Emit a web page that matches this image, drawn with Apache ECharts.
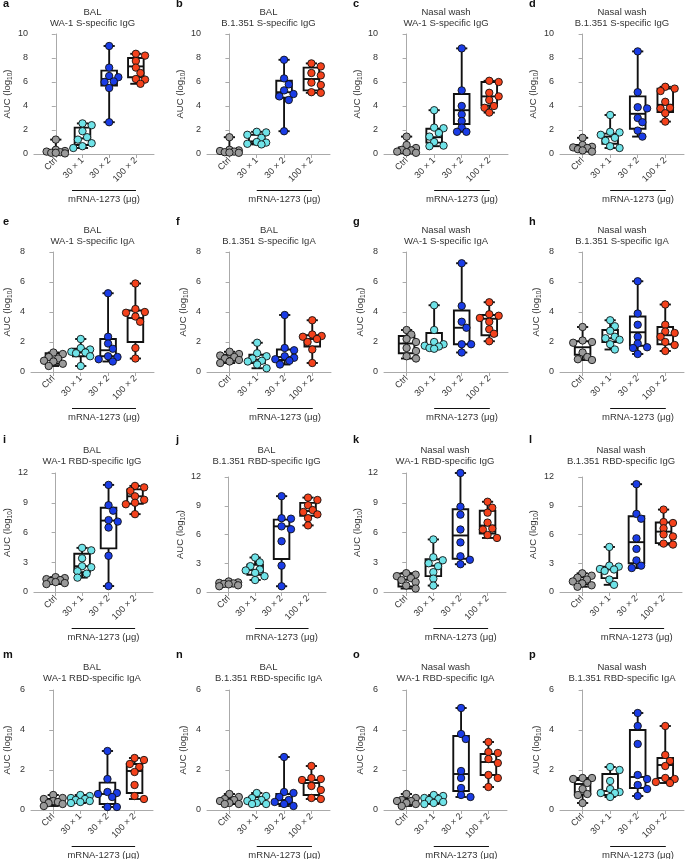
<!DOCTYPE html>
<html><head><meta charset="utf-8">
<script src="https://cdn.jsdelivr.net/npm/echarts@6/dist/echarts.min.js"></script>
<style>html,body{margin:0;padding:0;background:#fff}#c{width:685px;height:859px}</style>
</head><body><div id="c"></div>
<script>
// ---------------- DATA ----------------
const categories = ['Ctrl', '30 × 1', '30 × 2', '100 × 2'];
const groupColors = ['#9a9a9a', '#6fe3e8', '#1a3ce6', '#f4421c'];
const letters = ['a','b','c','d','e','f','g','h','i','j','k','l','m','n','o','p'];
const sites = ['BAL','BAL','Nasal wash','Nasal wash','BAL','BAL','Nasal wash','Nasal wash',
               'BAL','BAL','Nasal wash','Nasal wash','BAL','BAL','Nasal wash','Nasal wash'];
const antigens = ['WA-1 S-specific IgG','B.1.351 S-specific IgG','WA-1 S-specific IgG','B.1.351 S-specific IgG',
                  'WA-1 S-specific IgA','B.1.351 S-specific IgA','WA-1 S-specific IgA','B.1.351 S-specific IgA',
                  'WA-1 RBD-specific IgG','B.1.351 RBD-specific IgG','WA-1 RBD-specific IgG','B.1.351 RBD-specific IgG',
                  'WA-1 RBD-specific IgA','B.1.351 RBD-specific IgA','WA-1 RBD-specific IgA','B.1.351 RBD-specific IgA'];
const yMaxes = [10,10,10,10, 8,8,8,8, 12,12,12,12, 6,6,6,6];
const yTicks = [2,2,2,2, 2,2,2,2, 3,3,3,3, 2,2,2,2];
const yName = 'AUC (log{sub|10})';
const xGroupLabel = 'mRNA-1273 (μg)';

// points per group: Ctrl, 30x1, 30x2, 100x2
const ptsA = [[1.2,0.35,0.25,0.2,0.15,0.1,0.1,0.05],[2.55,2.4,1.9,1.4,1.2,0.9,0.65,0.5],[9.0,7.2,6.5,6.4,6.05,6.0,5.5,2.65],[8.35,8.2,7.75,7.2,6.75,6.25,6.2,5.85]];
const ptsB = [[1.4,0.35,0.3,0.25,0.2,0.15,0.12,0.1],[1.85,1.8,1.6,1.35,1.0,0.95,0.85,0.8],[7.85,6.3,5.8,5.3,5.0,4.8,4.5,1.9],[7.55,7.3,6.75,6.55,5.95,5.75,5.15,5.1]];
const ptsC = [[1.45,0.75,0.5,0.35,0.3,0.2,0.15,0.1],[3.65,2.2,2.15,1.75,1.45,1.0,0.7,0.65],[8.8,5.3,4.0,3.3,2.75,2.2,1.85,1.85],[6.1,6.0,5.1,4.8,4.5,4.0,3.85,3.45]];
const ptsD = [[1.35,0.75,0.6,0.55,0.5,0.4,0.3,0.2],[3.25,1.85,1.8,1.6,1.35,1.1,0.65,0.5],[8.55,5.15,3.9,3.8,3.0,2.65,1.95,1.45],[5.6,5.45,5.25,4.35,3.85,3.8,3.4,2.7]];
const ptsE = [[1.3,1.2,1.0,0.9,0.75,0.7,0.55,0.4],[2.2,1.6,1.5,1.35,1.3,1.25,1.05,0.4],[5.25,2.35,1.9,1.55,1.05,1.0,0.85,0.7],[5.9,4.2,4.0,3.95,3.7,3.35,1.6,0.9]];
const ptsF = [[1.35,1.2,1.1,1.0,0.9,0.8,0.7,0.6],[1.95,1.25,1.05,0.9,0.75,0.7,0.5,0.25],[3.8,1.6,1.45,1.05,0.95,0.85,0.75,0.5],[3.45,2.5,2.4,2.35,2.2,2.0,1.5,0.6]];
const ptsG = [[2.8,2.5,2.2,2.0,1.6,1.4,1.05,0.9],[4.45,2.8,2.0,1.85,1.75,1.7,1.6,1.55],[7.25,4.4,3.35,2.95,1.85,1.85,1.3],[4.65,3.85,3.75,3.6,3.35,2.85,2.55,2.05]];
const ptsH = [[3.0,2.1,2.0,1.95,1.3,1.0,0.85,0.8],[3.45,3.05,2.75,2.35,2.25,2.15,1.85,1.5],[6.05,3.9,3.15,2.35,1.9,1.65,1.6,1.2],[4.5,3.15,2.7,2.6,2.35,2.0,1.8,1.4]];
const ptsI = [[1.5,1.4,1.3,1.2,1.1,1.0,0.9,0.8],[4.45,4.2,3.4,2.6,2.5,2.1,1.85,1.45],[10.8,8.75,8.2,7.25,7.1,6.5,3.65,0.6],[10.7,10.55,10.2,9.65,9.3,9.0,8.85,7.85]];
const ptsJ = [[1.1,1.0,0.95,0.9,0.85,0.8,0.7,0.6],[3.6,3.1,2.7,2.35,2.25,2.0,1.65,1.25],[10.0,7.7,7.65,6.85,6.55,5.3,2.75,0.6],[9.85,9.6,9.05,8.55,8.35,8.1,7.7,6.95]];
const ptsK = [[1.9,1.75,1.6,1.4,1.2,1.0,0.65,0.35],[5.3,3.5,3.2,2.9,2.6,2.0,1.35,0.65],[12.0,8.6,7.8,6.3,5.0,3.6,3.25,2.8],[9.1,8.5,8.0,7.0,6.4,6.3,5.75,5.45]];
const ptsL = [[1.95,1.7,1.5,1.3,1.1,0.9,0.7,0.55],[4.7,2.75,2.65,2.4,2.35,2.2,1.3,0.75],[11.25,8.15,7.65,5.6,4.5,3.3,2.75,2.5],[8.6,7.3,7.2,6.65,6.0,5.8,5.05,4.95]];
const ptsM = [[0.75,0.6,0.55,0.45,0.4,0.35,0.3,0.2],[0.75,0.7,0.6,0.55,0.5,0.45,0.4,0.35],[2.95,1.55,0.9,0.85,0.8,0.65,0.15,0.15],[2.6,2.5,2.3,2.15,1.9,1.25,0.7,0.55]];
const ptsN = [[0.8,0.65,0.55,0.5,0.45,0.35,0.3,0.3],[0.85,0.7,0.6,0.5,0.45,0.35,0.3,0.3],[2.65,0.9,0.85,0.65,0.5,0.4,0.3,0.2],[2.2,1.6,1.55,1.5,1.2,1.0,0.6,0.55]];
const ptsO = [[0.8,0.6,0.5,0.45,0.45,0.35,0.3,0.2],[0.75,0.7,0.6,0.55,0.5,0.4,0.35,0.3],[5.1,3.8,3.55,1.95,1.6,1.1,0.75,0.65],[3.4,2.9,2.85,2.55,2.35,1.75,1.6,1.15]];
const ptsP = [[1.6,1.6,1.55,1.35,1.05,0.8,0.75,0.35],[2.15,2.0,1.45,1.05,0.9,0.85,0.85,0.65],[4.85,4.2,3.3,1.75,1.55,1.25,1.05,0.7],[4.2,2.75,2.45,2.2,1.6,1.55,1.4,1.35]];

// box stats per group: [min, q1, median, q3, max]
const boxA = [[0.05,0.1,0.17,0.3,1.2],[0.5,0.75,1.3,2.2,2.55],[2.65,5.7,6.25,6.95,9.0],[5.85,6.4,7.3,8.0,8.35]];
const boxB = [[0.1,0.13,0.22,0.3,1.4],[0.8,0.9,1.05,1.6,1.85],[1.9,4.7,5.15,6.1,7.85],[5.1,5.3,6.25,7.2,7.55]];
const boxC = [[0.1,0.15,0.33,0.55,1.45],[0.65,0.95,1.4,2.1,3.65],[1.85,2.5,3.65,5.0,8.8],[3.45,4.05,4.8,6.0,6.1]];
const boxD = [[0.2,0.35,0.55,0.75,1.35],[0.5,0.85,1.45,1.7,3.25],[1.45,2.1,3.35,4.8,8.55],[2.7,3.5,4.1,5.45,5.6]];
const boxE = [[0.4,0.55,0.8,1.25,1.3],[0.4,1.05,1.3,1.55,2.2],[0.7,1.05,1.45,2.2,5.25],[0.9,2.0,3.6,4.1,5.9]];
const boxF = [[0.6,0.75,0.95,1.15,1.35],[0.25,0.6,0.82,1.15,1.95],[0.5,0.8,1.0,1.5,3.8],[0.6,1.7,2.2,2.45,3.45]];
const boxG = [[0.9,1.25,1.9,2.4,2.8],[1.55,1.65,1.8,2.6,4.45],[1.3,1.85,2.95,4.1,7.25],[2.05,2.45,3.55,3.8,4.65]];
const boxH = [[0.8,1.15,1.65,2.05,3.0],[1.5,2.0,2.25,2.8,3.45],[1.2,1.75,2.65,3.7,6.05],[1.4,1.85,2.45,3.0,4.5]];
const boxI = [[0.8,0.9,1.1,1.35,1.5],[1.45,2.0,2.6,3.85,4.45],[0.6,4.4,7.2,8.5,10.8],[7.85,8.9,9.65,10.35,10.7]];
const boxJ = [[0.6,0.7,0.85,1.0,1.1],[1.25,1.8,2.3,2.85,3.6],[0.6,3.45,6.85,7.55,10.0],[6.95,7.95,8.45,9.3,9.85]];
const boxK = [[0.35,0.55,1.25,1.85,1.9],[0.65,1.6,2.65,3.3,5.3],[2.8,3.35,5.7,8.35,12.0],[5.45,5.9,6.7,8.2,9.1]];
const boxL = [[0.55,0.8,1.2,1.55,1.95],[0.75,1.45,2.35,2.65,4.7],[2.5,3.0,5.2,7.9,11.25],[4.95,5.1,6.3,7.25,8.6]];
const boxM = [[0.2,0.3,0.42,0.55,0.75],[0.35,0.4,0.52,0.65,0.75],[0.15,0.3,0.8,1.37,2.95],[0.55,0.85,1.95,2.3,2.6]];
const boxN = [[0.3,0.3,0.45,0.6,0.8],[0.3,0.33,0.45,0.65,0.85],[0.2,0.3,0.5,0.8,2.65],[0.55,0.75,1.35,1.5,2.2]];
const boxO = [[0.2,0.3,0.45,0.55,0.8],[0.3,0.35,0.52,0.65,0.75],[0.65,0.95,1.8,3.7,5.1],[1.15,1.75,2.4,2.8,3.4]];
const boxP = [[0.35,0.77,1.3,1.5,1.6],[0.65,0.75,0.95,1.8,2.15],[0.7,1.1,1.65,4.0,4.85],[1.35,1.6,2.25,2.6,4.2]];

const allPts = [ptsA,ptsB,ptsC,ptsD,ptsE,ptsF,ptsG,ptsH,ptsI,ptsJ,ptsK,ptsL,ptsM,ptsN,ptsO,ptsP];
const allBox = [boxA,boxB,boxC,boxD,boxE,boxF,boxG,boxH,boxI,boxJ,boxK,boxL,boxM,boxN,boxO,boxP];

// ---------------- LAYOUT ----------------
const colLefts = [31, 207, 384, 560];
const panelWidths = [123,123,124,124, 123,124,124,124, 122,119,122,122, 122,123,123,124];
const panelTops = [34,34,34,34, 252,252,252,252, 473,477,473,477, 690,690,690,690];
const rowBottoms = [154, 372, 592, 810];
const titleY = [12, 230, 450, 667];
const letterX = [3, 176, 353, 529];
const letterY = [4, 222, 440, 655];
const X_MIN = -0.82, X_MAX = 3.68;
const AX = '#aaaaaa';
const FONT = '"Liberation Sans", Arial, Helvetica, sans-serif';
const MARK = 7.4;

// compact column scatter: points spread at most ~2 steps either side, overlapping when crowded
function swarm(vals, pyu, pxu) {
  const order = vals.map((v, i) => i).sort((a, b) => vals[b] - vals[a]);
  const placed = [];
  const off = new Array(vals.length).fill(0);
  const D = 6.2, s = 4.7;
  const cands = [0, s, -s, 2 * s, -2 * s];
  order.forEach(i => {
    const y = vals[i] * pyu;
    let best = 0, bestD = -1;
    for (const cx of cands) {
      const md = placed.length ? Math.min(...placed.map(p => Math.hypot(p.x - cx, p.y - y))) : Infinity;
      if (md >= D) { best = cx; bestD = Infinity; break; }
      if (md > bestD + 0.01) { bestD = md; best = cx; }
    }
    off[i] = best; placed.push({ x: best, y });
  });
  return off.map(o => o / pxu);
}

function renderBox(params, api) {
  const x = api.value(0);
  const pMin = api.coord([x, api.value(1)]);
  const pQ1 = api.coord([x, api.value(2)]);
  const pMed = api.coord([x, api.value(3)]);
  const pQ3 = api.coord([x, api.value(4)]);
  const pMax = api.coord([x, api.value(5)]);
  const hw = 7.8, cw = 5.6, lw = 1.9;
  const st = { stroke: '#111', lineWidth: lw, fill: 'none' };
  const cx = pMed[0];
  return { type: 'group', children: [
    { type: 'line', shape: { x1: cx, y1: pMax[1], x2: cx, y2: pQ3[1] }, style: st },
    { type: 'line', shape: { x1: cx, y1: pQ1[1], x2: cx, y2: pMin[1] }, style: st },
    { type: 'line', shape: { x1: cx - cw, y1: pMax[1], x2: cx + cw, y2: pMax[1] }, style: st },
    { type: 'line', shape: { x1: cx - cw, y1: pMin[1], x2: cx + cw, y2: pMin[1] }, style: st },
    { type: 'rect', shape: { x: cx - hw, y: pQ3[1], width: 2 * hw, height: pQ1[1] - pQ3[1] }, style: { stroke: '#111', lineWidth: lw, fill: 'rgba(255,255,255,0)' } },
    { type: 'line', shape: { x1: cx - hw, y1: pMed[1], x2: cx + hw, y2: pMed[1] }, style: st }
  ]};
}

const grids = [], xAxes = [], yAxes = [], series = [], graphics = [];
for (let k = 0; k < 16; k++) {
  const r = Math.floor(k / 4), c = k % 4;
  const left = colLefts[c], top = panelTops[k], width = panelWidths[k];
  const height = rowBottoms[r] - top;
  grids.push({ left, top, width, height, containLabel: false });
  xAxes.push({
    gridIndex: k, type: 'value', min: X_MIN, max: X_MAX,
    axisLine: { show: true, onZero: true, lineStyle: { color: AX, width: 1 } },
    axisTick: { show: true, customValues: [0, 1, 2, 3], length: 4, lineStyle: { color: AX } },
    axisLabel: { show: true, customValues: [0, 1, 2, 3], rotate: 45, margin: 5, fontSize: 9, color: '#333', fontFamily: FONT,
      formatter: v => categories[Math.round(v)] },
    splitLine: { show: false }
  });
  yAxes.push({
    gridIndex: k, type: 'value', min: 0, max: yMaxes[k], interval: yTicks[k],
    axisLine: { show: true, lineStyle: { color: AX, width: 1 } },
    axisTick: { show: true, length: 4, lineStyle: { color: AX } },
    axisLabel: { fontSize: 9, color: '#333', margin: 6, fontFamily: FONT },
    splitLine: { show: false },
    name: yName, nameLocation: 'middle', nameRotate: 90, nameGap: 17,
    nameTextStyle: { fontSize: 9.5, color: '#333', fontFamily: FONT, lineHeight: 13,
      rich: { sub: { fontSize: 6.5, fontFamily: FONT, color: '#333', lineHeight: 13, verticalAlign: 'bottom', padding: [3, 0, 0, 0] } } }
  });
  const box = allBox[k];
  series.push({
    type: 'custom', xAxisIndex: k, yAxisIndex: k, silent: true, z: 2, clip: false,
    data: box.map((b, g) => [g, b[0], b[1], b[2], b[3], b[4]]),
    encode: { x: 0, y: [1, 2, 3, 4, 5] },
    renderItem: renderBox
  });
  const pyu = height / yMaxes[k];
  const pxu = width / (X_MAX - X_MIN);
  allPts[k].forEach((vals, g) => {
    const off = swarm(vals, pyu, pxu);
    series.push({
      type: 'scatter', xAxisIndex: k, yAxisIndex: k, z: 3, silent: true,
      symbol: 'circle', symbolSize: MARK,
      itemStyle: { color: groupColors[g], borderColor: '#111', borderWidth: 0.9, opacity: 1 },
      data: vals.map((v, i) => [g + off[i], v])
    });
  });
  // titles
  const cxT = left + width / 2;
  graphics.push({ type: 'text', x: cxT, y: titleY[r], style: { text: sites[k], fill: '#333', font: '9.5px ' + FONT, align: 'center', verticalAlign: 'middle', textAlign: 'center', textVerticalAlign: 'middle' } });
  graphics.push({ type: 'text', x: cxT, y: titleY[r] + 11, style: { text: antigens[k], fill: '#333', font: '9.5px ' + FONT, align: 'center', verticalAlign: 'middle', textAlign: 'center', textVerticalAlign: 'middle' } });
  graphics.push({ type: 'text', x: letterX[c], y: letterY[r], style: { text: letters[k], fill: '#111', font: 'bold 11px ' + FONT, align: 'left', verticalAlign: 'middle', textAlign: 'left', textVerticalAlign: 'middle' } });
  // bracket under dosed groups
  const toPx = v => left + (v - X_MIN) * pxu;
  const x1 = toPx(c === 0 ? 0.68 : 1.0), x2 = toPx(3.02);
  const by = rowBottoms[r] + 36.5;
  graphics.push({ type: 'line', shape: { x1, y1: by, x2, y2: by }, style: { stroke: '#111', lineWidth: 1.2 } });
  graphics.push({ type: 'text', x: (x1 + x2) / 2, y: rowBottoms[r] + 45.5, style: { text: xGroupLabel, fill: '#333', font: '9.5px ' + FONT, align: 'center', verticalAlign: 'middle', textAlign: 'center', textVerticalAlign: 'middle' } });
}

const chart = echarts.init(document.getElementById('c'), null, { renderer: 'canvas' });
chart.setOption({
  animation: false,
  backgroundColor: '#fff',
  grid: grids, xAxis: xAxes, yAxis: yAxes, series,
  graphic: { elements: graphics }
});
</script></body></html>
